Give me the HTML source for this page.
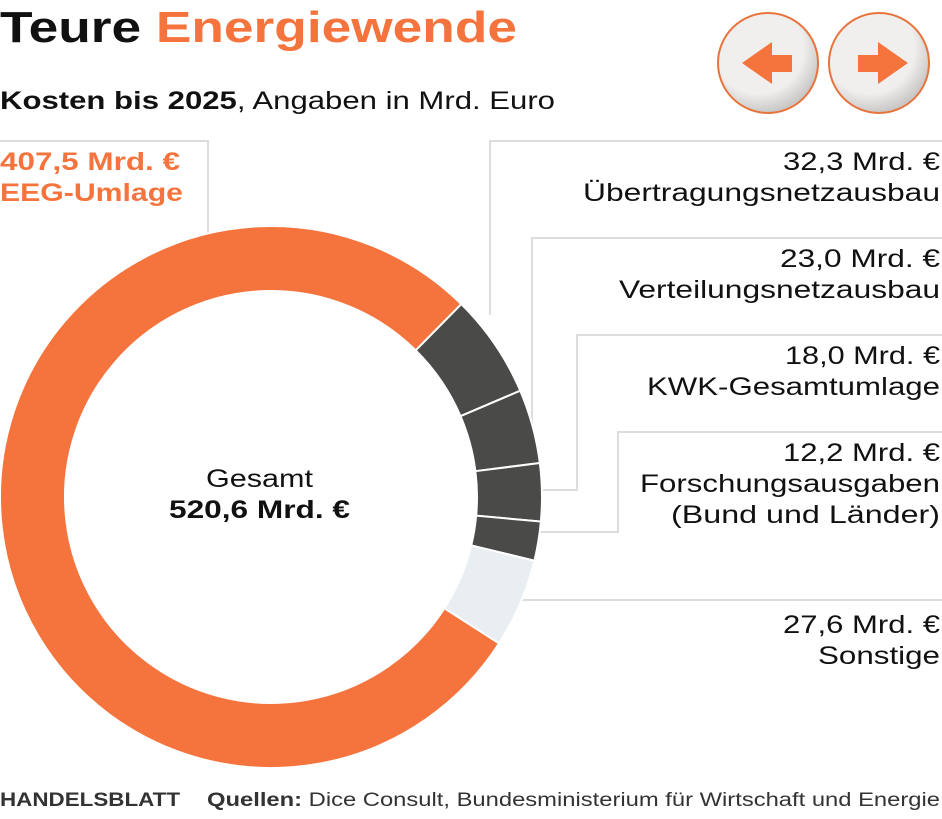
<!DOCTYPE html>
<html><head><meta charset="utf-8"><style>
body{margin:0;background:#fff;width:942px;height:814px;overflow:hidden;font-family:"Liberation Sans",sans-serif}
</style></head><body>
<svg width="942" height="814" xmlns="http://www.w3.org/2000/svg" font-family="Liberation Sans, sans-serif">
<defs>
<radialGradient id="g" cx="40%" cy="35%" r="65%"><stop offset="0.7" stop-color="#f0efee"/><stop offset="1" stop-color="#c9c8c6"/></radialGradient>
</defs>
<text x="0" y="42" font-size="44" font-weight="bold" fill="#111" textLength="517" lengthAdjust="spacingAndGlyphs">Teure <tspan fill="#f5743d">Energiewende</tspan></text>
<text x="0" y="109" font-size="25" fill="#111" textLength="555" lengthAdjust="spacingAndGlyphs"><tspan font-weight="bold">Kosten bis 2025</tspan>, Angaben in Mrd. Euro</text>
<g>
<circle cx="768" cy="63" r="50" fill="url(#g)" stroke="#e8743d" stroke-width="2"/>
<polygon points="742,63 772,42 772,55 792,55 792,72 772,72 772,84" fill="#f5743d"/>
<circle cx="879" cy="63" r="50" fill="url(#g)" stroke="#e8743d" stroke-width="2"/>
<polygon points="908,63 878,42 878,55 858,55 858,72 878,72 878,84" fill="#f5743d"/>
</g>
<g stroke="#ddd" stroke-width="2" fill="none">
<polyline points="0,141 208,141 208,235"/>
<polyline points="942,141 490,141 490,315"/>
<polyline points="942,238 532,238 532,425"/>
<polyline points="942,335 577,335 577,490 540,490"/>
<polyline points="942,432 618,432 618,532 540,532"/>
<polyline points="942,600 520,600"/>
</g>
<g id="ring"></g>
<g font-size="25" font-weight="bold" fill="#f5743d" lengthAdjust="spacingAndGlyphs">
<text x="0" y="170" textLength="180" lengthAdjust="spacingAndGlyphs">407,5 Mrd. €</text>
<text x="0" y="201" textLength="183" lengthAdjust="spacingAndGlyphs">EEG-Umlage</text>
</g>
<g font-size="25" fill="#111" text-anchor="end">
<text x="940" y="170" textLength="157" lengthAdjust="spacingAndGlyphs">32,3 Mrd. €</text><text x="940" y="201" textLength="357" lengthAdjust="spacingAndGlyphs">Übertragungsnetzausbau</text>
<text x="940" y="267" textLength="160" lengthAdjust="spacingAndGlyphs">23,0 Mrd. €</text><text x="940" y="298" textLength="321" lengthAdjust="spacingAndGlyphs">Verteilungsnetzausbau</text>
<text x="940" y="364" textLength="155" lengthAdjust="spacingAndGlyphs">18,0 Mrd. €</text><text x="940" y="395" textLength="293" lengthAdjust="spacingAndGlyphs">KWK-Gesamtumlage</text>
<text x="940" y="461" textLength="157" lengthAdjust="spacingAndGlyphs">12,2 Mrd. €</text><text x="940" y="492" textLength="300" lengthAdjust="spacingAndGlyphs">Forschungsausgaben</text><text x="940" y="523" textLength="269" lengthAdjust="spacingAndGlyphs">(Bund und Länder)</text>
<text x="940" y="633" textLength="157" lengthAdjust="spacingAndGlyphs">27,6 Mrd. €</text><text x="940" y="664" textLength="122" lengthAdjust="spacingAndGlyphs">Sonstige</text>
</g>
<text x="206" y="487" font-size="25" fill="#111" textLength="107" lengthAdjust="spacingAndGlyphs">Gesamt</text>
<text x="169" y="518" font-size="25" font-weight="bold" fill="#111" textLength="181" lengthAdjust="spacingAndGlyphs">520,6 Mrd. €</text>
<text x="0" y="806" font-size="19" font-weight="bold" fill="#333" textLength="180" lengthAdjust="spacingAndGlyphs">HANDELSBLATT</text>
<text x="207" y="806" font-size="19" fill="#333" textLength="733" lengthAdjust="spacingAndGlyphs"><tspan font-weight="bold">Quellen:</tspan> Dice Consult, Bundesministerium für Wirtschaft und Energie</text>
</svg>
<script>
var cx=271,cy=497,R=271,r=206;
var segs=[[44.6,66.9,"#4a4a48"],[66.9,82.8,"#4a4a48"],[82.8,95.2,"#4a4a48"],[95.2,103.6,"#4a4a48"],[103.6,122.7,"#e8eef2"],[122.7,404.6,"#f5743d"]];
function p(a,rad){a=a*Math.PI/180;return (cx+rad*Math.sin(a)).toFixed(2)+","+(cy-rad*Math.cos(a)).toFixed(2);}
var h="";
segs.forEach(function(s){var l=(s[1]-s[0])>180?1:0;
h+='<path d="M'+p(s[0],R)+' A'+R+','+R+' 0 '+l+' 1 '+p(s[1],R)+' L'+p(s[1],r)+' A'+r+','+r+' 0 '+l+' 0 '+p(s[0],r)+' Z" fill="'+s[2]+'" stroke="#fff" stroke-width="2"/>';});
document.getElementById("ring").innerHTML=h;
</script>
</body></html>
